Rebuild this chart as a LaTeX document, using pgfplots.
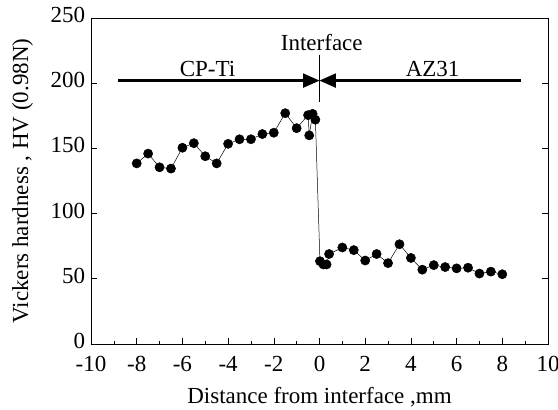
\documentclass[border=0pt]{standalone}
\usepackage{pgfplots}
\pgfplotsset{compat=1.18}
\usepackage{fontspec}
\setmainfont{Liberation Serif}
\begin{document}
\fontsize{23}{27}\selectfont
\begin{tikzpicture}
\begin{axis}[
  scale only axis,
  width=457pt, height=326pt,
  xmin=-10, xmax=10, ymin=0, ymax=250,
  xtick={-10,-8,...,10},
  minor xtick={-9,-7,...,9},
  ytick={0,50,...,250},
  tick align=inside,
  xtick pos=bottom,
  ytick pos=both,
  major tick length=6pt,
  minor tick length=3pt,
  tick style={black, line width=0.6pt},
  axis line style={line width=0.8pt},
  /pgf/number format/assume math mode=true,
  ticklabel style={font=\fontsize{23}{27}\selectfont},
  xticklabel style={yshift=-4pt},
  yticklabel style={xshift=2pt, yshift=3pt},
  label style={font=\fontsize{23}{27}\selectfont},
  xlabel={Distance from interface ,mm},
  ylabel={Vickers hardness , HV (0.98N)},
  xlabel style={yshift=0pt},
  ylabel style={yshift=2pt},
  clip=false,
]
\addplot[black, line width=0.5pt, mark=*, mark size=4.6pt, mark options={solid, fill=black}] coordinates {
(-8,138.5) (-7.5,146) (-7,135.5) (-6.5,134.5) (-6,150.5) (-5.5,154) (-5,144) (-4.5,138.5)
(-4,153.5) (-3.5,157) (-3,157) (-2.5,161) (-2,162) (-1.5,177) (-1,165.5) (-0.5,175.5)
(-0.45,160) (-0.3,176.5) (-0.18,172)
(0.02,63.5) (0.17,61) (0.31,61) (0.42,69) (1,74) (1.5,72) (2,64) (2.5,69) (3,62)
(3.5,76.5) (4,66) (4.5,57) (5,60.5) (5.5,59) (6,58) (6.5,58.5) (7,54) (7.5,55.5) (8,53.5)
};
\draw[line width=2.2pt] (axis cs:-8.83,202) -- (axis cs:-0.6,202);
\draw[line width=2.2pt] (axis cs:8.83,202) -- (axis cs:0.6,202);
\fill (axis cs:0,202) -- (axis cs:-0.72,207.6) -- (axis cs:-0.72,196.4) -- cycle;
\fill (axis cs:0,202) -- (axis cs:0.72,207.6) -- (axis cs:0.72,196.4) -- cycle;
\draw[line width=1.2pt] (axis cs:0,222) -- (axis cs:0,185.7);
\node at (axis cs:0.1,231) {Interface};
\node at (axis cs:-4.9,211) {CP-Ti};
\node at (axis cs:4.95,211) {AZ31};
\end{axis}
\pgfresetboundingbox
\useasboundingbox ([xshift=-91pt,yshift=-66pt]current axis.south west) rectangle ([xshift=10pt,yshift=18pt]current axis.north east);
\end{tikzpicture}
\end{document}
